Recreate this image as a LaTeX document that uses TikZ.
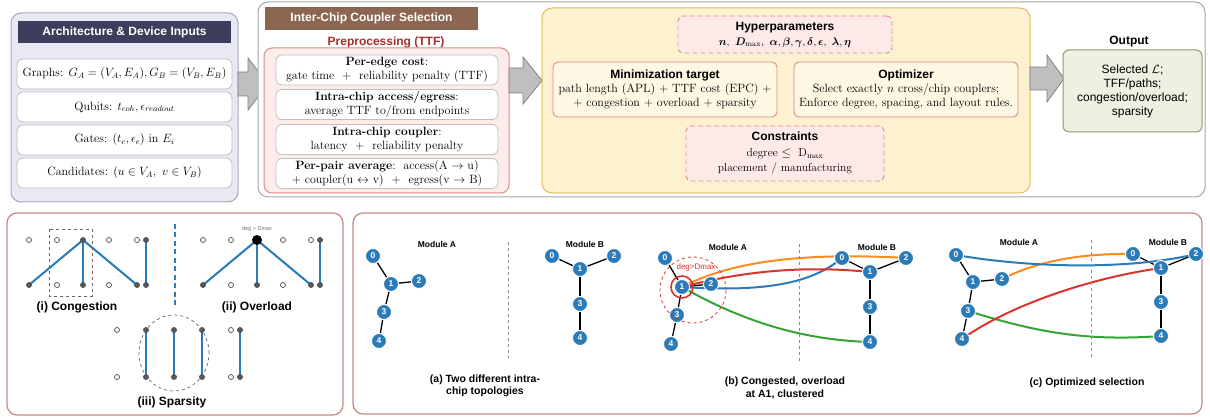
\documentclass[tikz,border=0pt]{standalone}
\usepackage{amsmath}
\usepackage{bm}
\usepackage{fontspec}
\newfontfamily\sfb{Liberation Sans}
\usetikzlibrary{arrows.meta}
\pgfdeclarelayer{back}
\pgfdeclarelayer{edges}
\pgfsetlayers{back,edges,main}
\definecolor{lavfill}{HTML}{E9E9F4}
\definecolor{lavdraw}{HTML}{A8A8B8}
\definecolor{navy}{HTML}{3D3D5C}
\definecolor{tabbrown}{HTML}{8C6650}
\definecolor{prered}{HTML}{A3302A}
\definecolor{prefill}{HTML}{FCEDEB}
\definecolor{predraw}{HTML}{D98C88}
\definecolor{yelfill}{HTML}{FDF1CF}
\definecolor{yeldraw}{HTML}{E3BA5E}
\definecolor{hypfill}{HTML}{FDE9E8}
\definecolor{hypdraw}{HTML}{D98A88}
\definecolor{minfill}{HTML}{FFF7E4}
\definecolor{outfill}{HTML}{EEF0E2}
\definecolor{outdraw}{HTML}{8D9C68}
\definecolor{panelrose}{HTML}{C98682}
\definecolor{qblue}{HTML}{2B7BB9}
\definecolor{qorange}{HTML}{FF8A1E}
\definecolor{qred}{HTML}{D9342B}
\definecolor{qgreen}{HTML}{35A335}
\definecolor{arrowgray}{HTML}{BFBFBF}
\tikzset{
 panel/.style={rounded corners=10pt, line width=1pt},
 rowbox/.style={draw=black!25, fill=white, rounded corners=6pt, line width=0.8pt, align=center, inner sep=0pt, font=\fontsize{12}{14}\selectfont},
 titlebar/.style={inner sep=0pt, text=white, font=\sfb\bfseries\fontsize{12}{13}\selectfont},
 fatarrow/.style={fill=arrowgray, draw=black!50, line width=0.8pt, line join=miter},
 subbox/.style={rounded corners=5pt, line width=0.9pt, align=center, inner sep=0pt},
 dashbox/.style={dash pattern=on 5pt off 3pt},
 qn/.style={circle, fill=qblue, draw=white, line width=0.9pt, minimum size=15pt, inner sep=0pt, text=white, font=\sfb\bfseries\fontsize{8.5}{9}\selectfont},
 tedge/.style={black, line width=1.3pt},
 odot/.style={circle, draw=black!70, fill=white, line width=0.7pt, minimum size=5pt, inner sep=0pt},
 fdot/.style={circle, draw=black!70, fill=black!65, line width=0.7pt, minimum size=5pt, inner sep=0pt},
 bline/.style={qblue, line width=2pt},
 modlabel/.style={font=\sfb\bfseries\fontsize{8.5}{9}\selectfont},
 caplabel/.style={font=\sfb\bfseries\fontsize{10.5}{12.5}\selectfont, align=center},
 sublabel/.style={font=\sfb\bfseries\fontsize{12}{13}\selectfont},
 cline/.style={line width=2pt},
 vdash/.style={draw=black!45, dashed, line width=0.8pt}
}
\begin{document}
\begin{tikzpicture}[x=1pt,y=-1pt]
\useasboundingbox (0,0) rectangle (1210,419);
\begin{pgfonlayer}{back}
\fill[white] (0,0) rectangle (1210,419);
\end{pgfonlayer}

% ---------- Panel 1
\draw[panel, draw=lavdraw, fill=lavfill] (11,13) rectangle (238,202);
\node[titlebar, fill=navy, minimum width=213pt, minimum height=22pt] (t1) at (124.5,32) {Architecture \& Device Inputs};
\node[rowbox, minimum width=215pt, minimum height=30pt] (r1) at (124.5,74) {Graphs: $G_A=(V_A,E_A),G_B=(V_B,E_B)$};
\node[rowbox, minimum width=215pt, minimum height=30pt] (r2) at (124.5,107) {Qubits: $t_{coh},\epsilon_{readout}$};
\node[rowbox, minimum width=215pt, minimum height=30pt] (r3) at (124.5,140) {Gates: $(t_e,\epsilon_e)$ in $E_i$};
\node[rowbox, minimum width=215pt, minimum height=30pt] (r4) at (124.5,173) {Candidates: $(u\in V_A,\ v\in V_B)$};

% arrow 1
\draw[fatarrow] (238,72) -- (248,72) -- (248,58) -- (268,84) -- (248,110) -- (248,96) -- (238,96) -- cycle;

% ---------- container
\draw[panel, draw=black!35, fill=white] (258,2) rectangle (1205,197);
\node[titlebar, fill=tabbrown, minimum width=213pt, minimum height=23pt] (tab) at (371.5,18.5) {Inter-Chip Coupler Selection};
\node[font=\sfb\bfseries\fontsize{12}{13}\selectfont, text=prered] (preT) at (386,42) {Preprocessing (TTF)};
\draw[panel, rounded corners=8pt, draw=predraw, fill=prefill] (264,48) rectangle (509,193);
\node[rowbox, minimum width=222pt, minimum height=30pt] (p1) at (387,70) {\textbf{Per-edge cost}:\\ gate time~~+~~reliability penalty (TTF)};
\node[rowbox, minimum width=222pt, minimum height=30pt] (p2) at (387,104.5) {\textbf{Intra-chip access/egress}:\\ average TTF to/from endpoints};
\node[rowbox, minimum width=222pt, minimum height=30pt] (p3) at (387,139.5) {\textbf{Intra-chip coupler}:\\ latency~~+~~reliability penalty};
\node[rowbox, minimum width=222pt, minimum height=30pt] (p4) at (387,173.5) {\textbf{Per-pair average}:~~access(A $\rightarrow$ u)\\ + coupler(u $\leftrightarrow$ v)~~+~~egress(v $\rightarrow$ B)};

% arrow 2
\draw[fatarrow] (509,68) -- (523,68) -- (523,57) -- (542,80.5) -- (523,104) -- (523,93) -- (509,93) -- cycle;

% ---------- yellow box
\draw[panel, draw=yeldraw, fill=yelfill] (542,8) rectangle (1030,193);
\node[subbox, dashbox, draw=hypdraw, fill=hypfill, minimum width=214pt, minimum height=37pt, font=\fontsize{11}{15}\selectfont] (hyp) at (785,34.5) {{\sfb\bfseries\fontsize{12}{15}\selectfont Hyperparameters}\\ $\bm{n},\ \bm{D}_{\max},\ \bm{\alpha},\bm{\beta},\bm{\gamma},\bm{\delta},\bm{\epsilon},\ \bm{\lambda},\bm{\eta}$};
\node[subbox, draw=hypdraw, fill=minfill, minimum width=224pt, minimum height=55pt, font=\fontsize{12}{14}\selectfont] (mint) at (665,89.5) {{\sfb\bfseries Minimization target}\\ path length (APL)~+~TTF cost (EPC)~+\\ +~congestion~+~overload~+~sparsity};
\node[subbox, draw=hypdraw, fill=minfill, minimum width=224pt, minimum height=55pt, font=\fontsize{12}{14}\selectfont] (opt) at (906,89.5) {{\sfb\bfseries Optimizer}\\ Select exactly $n$ cross/chip couplers;\\ Enforce degree, spacing, and layout rules.};
\node[subbox, dashbox, draw=hypdraw, fill=hypfill, minimum width=198pt, minimum height=55pt, font=\fontsize{11.5}{15.5}\selectfont] (cons) at (785,153.5) {{\sfb\bfseries\fontsize{12}{15.5}\selectfont Constraints}\\ degree $\le$~~$\mathrm{D}_{\max}$\\ placement / manufacturing};

% arrow 3
\draw[fatarrow] (1030,67) -- (1047,67) -- (1047,55) -- (1064,78.5) -- (1047,102) -- (1047,90) -- (1030,90) -- cycle;
\node[font=\sfb\bfseries\fontsize{12}{13}\selectfont] (outT) at (1129,42) {Output};
\node[subbox, rounded corners=6pt, draw=outdraw, fill=outfill, line width=1pt, minimum width=139pt, minimum height=82pt, font=\sfb\fontsize{12}{14}\selectfont] (out) at (1132.5,91) {Selected $\mathcal{L}$;\\ TFF/paths;\\ congestion/overload;\\ sparsity};

% ---------- bottom-left panel
\draw[panel, draw=panelrose, line width=1.2pt] (7,213) rectangle (343,415);
\draw[dashed, black!60, line width=0.7pt] (49,229) rectangle (92,296);
% congestion
\node[odot] (ct1) at (29,240) {}; \node[odot] (ct2) at (57,240) {}; \node[fdot] (ct3) at (83,240) {};
\node[odot] (ct4) at (109,240) {}; \node[odot] (ct5) at (137,240) {}; \node[fdot] (ct6) at (146,240) {};
\node[fdot] (cb1) at (29,285) {}; \node[odot] (cb2) at (57,285) {}; \node[fdot] (cb3) at (83,285) {};
\node[odot] (cb4) at (109,285) {}; \node[fdot] (cb5) at (137,285) {}; \node[fdot] (cb6) at (146,285) {};
% overload
\node[odot] (ot1) at (203,240) {}; \node[odot] (ot2) at (231,240) {};
\node[circle, fill=black, minimum size=10pt, inner sep=0pt] (ot3) at (257,240) {};
\node[odot] (ot4) at (283,240) {}; \node[odot] (ot5) at (311,240) {}; \node[fdot] (ot6) at (320,240) {};
\node[fdot] (ob1) at (203,285) {}; \node[odot] (ob2) at (231,285) {}; \node[fdot] (ob3) at (257,285) {};
\node[odot] (ob4) at (283,285) {}; \node[fdot] (ob5) at (311,285) {}; \node[fdot] (ob6) at (320,285) {};
% sparsity
\node[odot] (st1) at (117,330) {}; \node[fdot] (st2) at (146,330) {}; \node[fdot] (st3) at (174,330) {};
\node[fdot] (st4) at (202,330) {}; \node[odot] (st5) at (231,330) {}; \node[fdot] (st6) at (240,330) {};
\node[odot] (sb1) at (117,377) {}; \node[fdot] (sb2) at (146,377) {}; \node[fdot] (sb3) at (174,377) {};
\node[fdot] (sb4) at (202,377) {}; \node[odot] (sb5) at (231,377) {}; \node[fdot] (sb6) at (240,377) {};
\draw[dashed, black!60, line width=0.7pt] (174,353) ellipse [x radius=35pt, y radius=38pt];
\begin{pgfonlayer}{edges}
\draw[bline] (ct3.center) -- (cb1.center);
\draw[bline] (ct3.center) -- (cb3.center);
\draw[bline] (ct3.center) -- (cb5.center);
\draw[bline] (ct6.center) -- (cb6.center);
\draw[bline] (ot3.center) -- (ob1.center);
\draw[bline] (ot3.center) -- (ob3.center);
\draw[bline] (ot3.center) -- (ob5.center);
\draw[bline] (ot6.center) -- (ob6.center);
\draw[bline] (st2.center) -- (sb2.center);
\draw[bline] (st3.center) -- (sb3.center);
\draw[bline] (st4.center) -- (sb4.center);
\draw[bline] (st6.center) -- (sb6.center);
\end{pgfonlayer}
\draw[qblue, line width=1.6pt, dash pattern=on 5pt off 3.5pt] (175,224) -- (175,307);
\node[font=\sfb\fontsize{5.5}{6}\selectfont, text=black!55] (dg) at (257,229) {deg > Dmax};
\node[sublabel] (l1) at (77,307) {(i) Congestion};
\node[sublabel] (l2) at (257,307) {(ii) Overload};
\node[sublabel] (l3) at (172,402) {(iii) Sparsity};

% ---------- bottom-right panel
\draw[panel, draw=panelrose, line width=1.2pt] (353,213) rectangle (1202,414);

% (a)
\node[modlabel] (amA) at (437,244) {Module A};
\node[modlabel] (amB) at (585,244) {Module B};
\draw[vdash] (508,242) -- (508,358);
\node[qn] (aA0) at (373,256) {0}; \node[qn] (aA1) at (391,284) {1}; \node[qn] (aA2) at (419,281) {2};
\node[qn] (aA3) at (384,312) {3}; \node[qn] (aA4) at (379,341) {4};
\node[qn] (aB0) at (552,256) {0}; \node[qn] (aB1) at (580,269) {1}; \node[qn] (aB2) at (614,256) {2};
\node[qn] (aB3) at (580,304) {3}; \node[qn] (aB4) at (580,338) {4};
\node[caplabel] (capa) at (485,386) {(a) Two different intra-\\ chip topologies};

% (b)
\node[modlabel] (bmA) at (728,247) {Module A};
\node[modlabel] (bmB) at (877,247) {Module B};
\draw[vdash] (799,244) -- (799,361);
\node[qn] (bA0) at (665,258) {0}; \node[qn] (bA1) at (682,287) {1}; \node[qn] (bA2) at (711,284) {2};
\node[qn] (bA3) at (677,315) {3}; \node[qn] (bA4) at (671,344) {4};
\node[qn] (bB0) at (842,258) {0}; \node[qn] (bB1) at (870,272) {1}; \node[qn] (bB2) at (906,258) {2};
\node[qn] (bB3) at (870,307) {3}; \node[qn] (bB4) at (870,342) {4};
\draw[qred, line width=1.6pt] (bA1.center) circle [radius=11pt];
\draw[qred, dashed, line width=0.8pt] (693,290) circle [radius=33pt];
\node[font=\sfb\fontsize{8}{9}\selectfont, text=qred] (dgb) at (696,267) {deg>Dmax};
\node[caplabel] (capb) at (785,388) {(b) Congested, overload\\ at A1, clustered};

% (c)
\node[modlabel] (cmA) at (1019,242) {Module A};
\node[modlabel] (cmB) at (1168,242) {Module B};
\draw[vdash] (1091,240) -- (1091,357);
\node[qn] (cA0) at (956,255) {0}; \node[qn] (cA1) at (973,282) {1}; \node[qn] (cA2) at (1002,279) {2};
\node[qn] (cA3) at (968,311) {3}; \node[qn] (cA4) at (962,339) {4};
\node[qn] (cB0) at (1133,254) {0}; \node[qn] (cB1) at (1161,268) {1}; \node[qn] (cB2) at (1196,254) {2};
\node[qn] (cB3) at (1161,302) {3}; \node[qn] (cB4) at (1161,336) {4};
\node[caplabel] (capc) at (1087,383) {(c) Optimized selection};

\begin{pgfonlayer}{edges}
\foreach \p in {a,b,c}{
 \draw[tedge] (\p A0) -- (\p A1); \draw[tedge] (\p A1) -- (\p A2);
 \draw[tedge] (\p A1) -- (\p A3); \draw[tedge] (\p A3) -- (\p A4);
 \draw[tedge] (\p B0) -- (\p B1); \draw[tedge] (\p B1) -- (\p B2);
 \draw[tedge] (\p B1) -- (\p B3); \draw[tedge] (\p B3) -- (\p B4);
}
\draw[cline, qgreen] (bA1.center) .. controls (740,320) and (800,340) .. (bB4.center);
\draw[cline, qblue] (bA1.center) .. controls (760,292) and (810,285) .. (bB0.center);
\draw[cline, qred] (bA1.center) .. controls (740,272) and (800,265) .. (bB1.center);
\draw[cline, qorange] (bA1.center) .. controls (730,262) and (800,252) .. (bB2.center);
\draw[cline, qgreen] (cA3.center) .. controls (1030,330) and (1080,342) .. (cB4.center);
\draw[cline, qred] (cA4.center) .. controls (1010,305) and (1090,278) .. (cB1.center);
\draw[cline, qorange] (cA2.center) .. controls (1030,265) and (1070,253) .. (cB0.center);
\draw[cline, qblue] (cA0.center) .. controls (1030,268) and (1130,270) .. (cB2.center);
\end{pgfonlayer}
\end{tikzpicture}
\end{document}
